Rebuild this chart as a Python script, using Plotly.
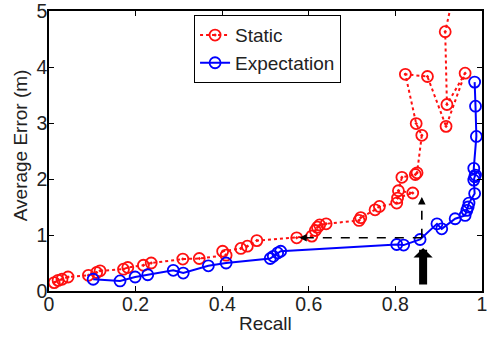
import plotly.graph_objects as go

# ---- data ----
static_recall = [0.012, 0.021, 0.030, 0.044, 0.091, 0.110, 0.118, 0.172, 0.182, 0.218, 0.236,
                 0.309, 0.347, 0.409, 0.401, 0.443, 0.458, 0.480, 0.572, 0.607, 0.615, 0.620,
                 0.625, 0.640, 0.716, 0.720, 0.753, 0.763, 0.803, 0.805, 0.840, 0.807, 0.815,
                 0.846, 0.850, 0.861, 0.848, 0.823, 0.874, 0.917, 0.961, 0.919, 0.915, 0.940]
static_error = [0.15, 0.19, 0.21, 0.25, 0.28, 0.33, 0.36, 0.39, 0.42, 0.46, 0.50,
                0.57, 0.58, 0.64, 0.71, 0.76, 0.80, 0.90, 0.95, 0.98, 1.08, 1.14,
                1.18, 1.20, 1.26, 1.31, 1.45, 1.51, 1.57, 1.66, 1.75, 1.79, 2.03,
                2.08, 2.11, 2.78, 2.99, 3.87, 3.83, 2.94, 3.89, 3.33, 4.63, 5.50]

exp_recall = [0.102, 0.164, 0.199, 0.228, 0.287, 0.310, 0.368, 0.409, 0.511, 0.518, 0.528,
              0.535, 0.803, 0.819, 0.857, 0.896, 0.907, 0.938, 0.961, 0.965, 0.968, 0.970,
              0.983, 0.981, 0.983, 0.985, 0.981, 0.987, 0.985, 0.983]
exp_error = [0.21, 0.18, 0.25, 0.29, 0.37, 0.32, 0.45, 0.50, 0.58, 0.62, 0.68,
             0.71, 0.83, 0.82, 0.92, 1.20, 1.11, 1.29, 1.35, 1.44, 1.50, 1.57,
             1.74, 1.98, 2.04, 2.07, 2.19, 2.76, 3.30, 3.73]

x_ticks = [0, 0.2, 0.4, 0.6, 0.8, 1]
x_tick_labels = ["0", "0.2", "0.4", "0.6", "0.8", "1"]
y_ticks = [0, 1, 2, 3, 4, 5]
y_tick_labels = ["0", "1", "2", "3", "4", "5"]

# annotation points: operating point, horizontal target, vertical target, big arrow tip
op_point = (0.861, 0.95)
h_target = (0.578, 0.95)
v_target = (0.861, 1.68)
big_arrow_tip = (0.864, 0.77)

FONT = "Liberation Sans, Arial, sans-serif"
TXT = "#222"
fig = go.Figure()
fig.add_trace(go.Scatter(
    x=static_recall, y=static_error, name="Static", mode="lines+markers",
    line=dict(color="#ff1010", width=2, dash="dot"),
    marker=dict(symbol="circle-open-dot", size=11, color="#ff1010", line=dict(width=1.8)),
    cliponaxis=True))
fig.add_trace(go.Scatter(
    x=exp_recall, y=exp_error, name="Expectation", mode="lines+markers",
    line=dict(color="#0000ff", width=2),
    marker=dict(symbol="circle-open", size=11, color="#0000ff", line=dict(width=1.8)),
    cliponaxis=True))

# dashed guide lines
fig.add_shape(type="line", x0=op_point[0], y0=op_point[1], x1=h_target[0] + 0.012, y1=h_target[1],
              line=dict(color="black", width=1.6, dash="dash"))
fig.add_shape(type="line", x0=op_point[0], y0=op_point[1], x1=v_target[0], y1=v_target[1] - 0.06,
              line=dict(color="black", width=1.6, dash="dash"))
# small arrow heads
fig.add_annotation(x=h_target[0], y=h_target[1], ax=8, ay=0, showarrow=True,
                   arrowhead=2, arrowwidth=1.5, arrowsize=1.0, arrowcolor="black", text="")
fig.add_annotation(x=v_target[0], y=v_target[1], ax=0, ay=8, showarrow=True,
                   arrowhead=2, arrowwidth=1.5, arrowsize=1.0, arrowcolor="black", text="")
# big black arrow
fig.add_annotation(x=big_arrow_tip[0], y=big_arrow_tip[1], ax=0, ay=38, showarrow=True,
                   arrowhead=1, arrowwidth=8, arrowsize=0.4, arrowcolor="black", text="")

# axis titles
fig.add_annotation(text="Recall", xref="paper", yref="paper", x=0.5, y=-0.115,
                   xanchor="center", yanchor="middle", showarrow=False,
                   font=dict(family=FONT, size=19, color=TXT))
fig.add_annotation(text="Average Error (m)", xref="paper", yref="paper", x=-0.065, y=0.52,
                   xanchor="center", yanchor="middle", showarrow=False, textangle=-90,
                   font=dict(family=FONT, size=19, color=TXT))

axis_common = dict(showline=True, linecolor="black", linewidth=1.5, mirror="ticks",
                   ticks="inside", ticklen=5, tickcolor="black", tickwidth=1.2,
                   showgrid=False, zeroline=False, automargin=False,
                   ticklabeloverflow="allow",
                   tickfont=dict(family=FONT, size=19.5, color=TXT))
fig.update_xaxes(range=[0, 1], tickvals=x_ticks, ticktext=x_tick_labels,
                 ticklabelstandoff=-5, **axis_common)
fig.update_yaxes(range=[0, 5], tickvals=y_ticks, ticktext=y_tick_labels,
                 ticklabelstandoff=-4, **axis_common)

fig.update_layout(
    width=487, height=337,
    margin=dict(l=49, r=5, t=11, b=46),
    paper_bgcolor="white", plot_bgcolor="white",
    showlegend=True,
    legend=dict(x=0.335, y=0.985, xanchor="left", yanchor="top",
                bgcolor="white", bordercolor="black", borderwidth=1,
                font=dict(family=FONT, size=19, color=TXT),
                tracegroupgap=0, itemwidth=30),
)
fig.write_html("out.html", config={"displayModeBar": False},
               post_script="document.body.style.margin='0';document.body.style.overflow='hidden';")
